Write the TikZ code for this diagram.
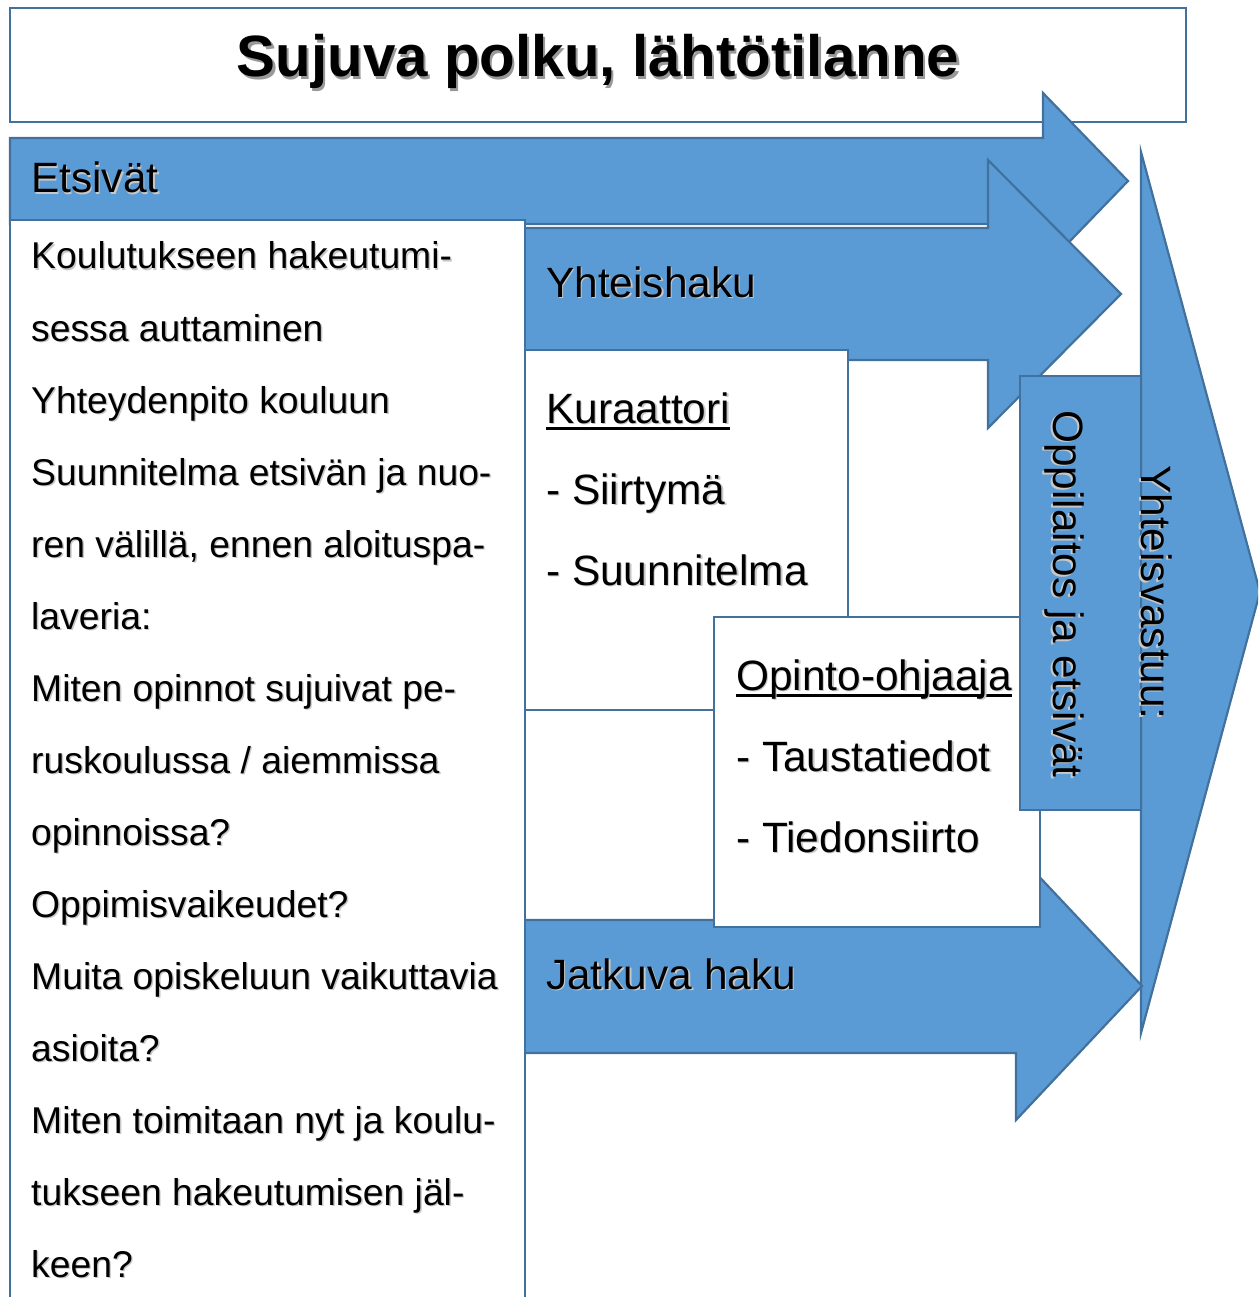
\documentclass[tikz,border=0pt]{standalone}
\usepackage{fontspec}
\setmainfont{Liberation Sans}
\definecolor{fillb}{HTML}{5B9BD5}
\definecolor{lineb}{HTML}{41719C}
\newcommand\myshadow[3]{\leavevmode\rlap{\kern#1\raisebox{-#1}{\color{#2}#3}}#3}
\newcommand\myul[1]{\setbox0\hbox{#1}\rlap{\rule[-7pt]{\wd0}{2.6pt}}\box0}
\newcommand\soft[1]{\myshadow{1.4pt}{black!22}{#1}}
\begin{document}
\begin{tikzpicture}[x=1pt,y=-1pt,
  outl/.style={draw=lineb, line width=2.2pt, line join=miter},
  bluefill/.style={outl, fill=fillb},
  whitebox/.style={outl, fill=white},
  lbl/.style={anchor=base west, inner sep=0pt, font=\fontsize{42.4}{50}\selectfont},
  bodytxt/.style={anchor=base west, inner sep=0pt, font=\fontsize{37.3}{44}\selectfont},
  ttl/.style={anchor=base, inner sep=0pt, font=\bfseries\fontsize{58.3}{66}\selectfont},
]
\useasboundingbox (0,0) rectangle (1258,1297);
\clip (0,0) rectangle (1258,1297);

% title box
\draw[whitebox] (10,8) rectangle (1186,122);
\node[ttl] (title) at (598,77) {\myshadow{2.2pt}{black!40}{Sujuva polku, lähtötilanne}};

% Etsivät arrow
\draw[bluefill] (10,138) -- (1043,138) -- (1043,93) -- (1128,181) -- (1043,269) -- (1043,224) -- (10,224) -- cycle;
% Yhteishaku arrow
\draw[bluefill] (520,228) -- (988,228) -- (988,160) -- (1121,294) -- (988,428) -- (988,360) -- (520,360) -- cycle;
% Yhteisvastuu big head
\draw[bluefill] (1141,152) -- (1260,592) -- (1141,1033) -- cycle;
% Jatkuva haku arrow
\draw[bluefill] (520,920) -- (1016,920) -- (1016,852) -- (1142,986) -- (1016,1120) -- (1016,1053) -- (520,1053) -- cycle;

% left text box
\draw[whitebox] (10,220) rectangle (525,1320);
% Kuraattori box
\draw[whitebox] (525,350) rectangle (848,710);
% Opinto-ohjaaja box
\draw[whitebox] (714,617) rectangle (1040,927);
% Oppilaitos box
\draw[bluefill] (1020,376) rectangle (1141,810);

% arrow labels
\node[lbl] (etsivat) at (31,193) {\soft{Etsivät}};
\node[lbl] (yhteishaku) at (546,297) {\soft{Yhteishaku}};
\node[lbl] (jatkuva) at (546,989) {\soft{Jatkuva haku}};

% Kuraattori
\node[lbl] (kur) at (546,423) {\myul{\soft{Kuraattori}}};
\node[lbl] (kur1) at (546,504) {\soft{- Siirtymä}};
\node[lbl] (kur2) at (546,585) {\soft{- Suunnitelma}};

% Opinto-ohjaaja
\node[lbl] (opo) at (736,690) {\myul{\soft{Opinto-ohjaaja}}};
\node[lbl] (opo1) at (736,771) {\soft{- Taustatiedot}};
\node[lbl] (opo2) at (736,852) {\soft{- Tiedonsiirto}};

% rotated labels
\node[lbl, rotate=-90] (oppil) at (1053,410) {\soft{Oppilaitos ja etsivät}};
\node[lbl, rotate=-90] (yhteisv) at (1141,465) {\soft{Yhteisvastuu:}};

% left box text
\node[bodytxt] (l1) at (31,269) {\soft{Koulutukseen hakeutumi-}};
\node[bodytxt] (l2) at (31,341) {\soft{sessa auttaminen}};
\node[bodytxt] (l3) at (31,413) {\soft{Yhteydenpito kouluun}};
\node[bodytxt] (l4) at (31,485) {\soft{Suunnitelma etsivän ja nuo-}};
\node[bodytxt] (l5) at (31,557) {\soft{ren välillä, ennen aloituspa-}};
\node[bodytxt] (l6) at (31,629) {\soft{laveria:}};
\node[bodytxt] (l7) at (31,701) {\soft{Miten opinnot sujuivat pe-}};
\node[bodytxt] (l8) at (31,773) {\soft{ruskoulussa / aiemmissa}};
\node[bodytxt] (l9) at (31,845) {\soft{opinnoissa?}};
\node[bodytxt] (l10) at (31,917) {\soft{Oppimisvaikeudet?}};
\node[bodytxt] (l11) at (31,989) {\soft{Muita opiskeluun vaikuttavia}};
\node[bodytxt] (l12) at (31,1061) {\soft{asioita?}};
\node[bodytxt] (l13) at (31,1133) {\soft{Miten toimitaan nyt ja koulu-}};
\node[bodytxt] (l14) at (31,1205) {\soft{tukseen hakeutumisen jäl-}};
\node[bodytxt] (l15) at (31,1277) {\soft{keen?}};
\end{tikzpicture}
\end{document}
